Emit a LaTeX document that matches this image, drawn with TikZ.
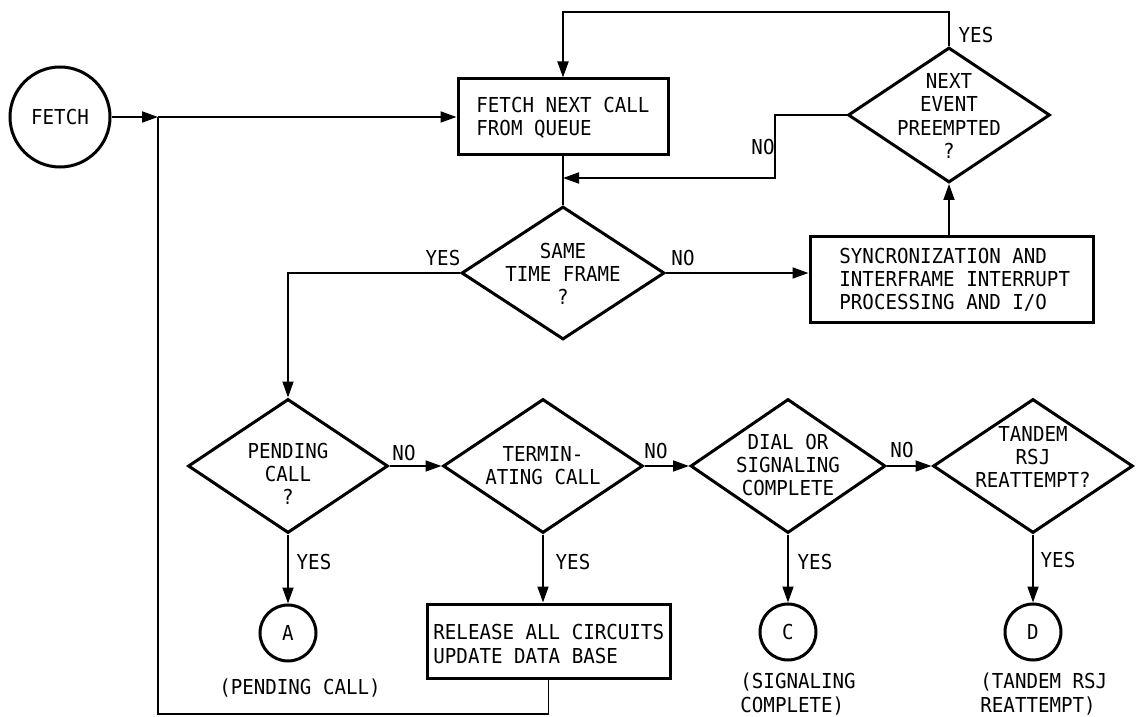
\documentclass[tikz,border=0pt]{standalone}
\usepackage{fontspec}
\setmainfont{DejaVu Sans Mono}[FakeStretch=0.93]
\usetikzlibrary{shapes.geometric,arrows.meta}
\tikzset{
  txt/.style={font=\fontsize{10.3pt}{11.6pt}\selectfont, inner sep=0pt},
  shapeline/.style={draw=black, line width=1.5pt},
  procbox/.style={shapeline, rectangle, inner sep=0pt},
  decide/.style={shapeline, diamond, inner sep=0pt, minimum width=100pt, minimum height=67pt},
  conn/.style={circle, shapeline, inner sep=0pt, minimum size=28pt},
  wire/.style={draw=black, line width=0.9pt},
  arr/.style={wire, -{Triangle[length=8pt,width=5.5pt]}},
}
\begin{document}
\begin{tikzpicture}[x=0.5pt,y=-0.5pt]
\useasboundingbox (0,0) rectangle (1137,717);
% nodes
\node[circle, shapeline, minimum size=50pt, inner sep=0pt] (fetch) at (60,117) {};
\node[txt] (fetcht) at (fetch) {FETCH};
\node[procbox, minimum width=105pt, minimum height=38pt] (box1) at (563,117) {};
\node[txt, align=left, anchor=west] (box1t) at (476,118) {FETCH NEXT CALL\\FROM QUEUE};
\node[decide, minimum width=101.5pt, minimum height=66.5pt] (d1) at (563,273) {};
\node[txt, align=center] (d1t) at (563,274) {SAME\\TIME FRAME\\?};
\node[decide, minimum width=101pt, minimum height=67.5pt] (d2) at (949,115) {};
\node[txt, align=center] (d2t) at (949,116) {NEXT\\EVENT\\PREEMPTED\\?};
\node[procbox, minimum width=141.5pt, minimum height=43pt] (box2) at (951.5,280) {};
\node[txt, align=left, anchor=west] (box2t) at (839,280) {SYNCRONIZATION AND\\INTERFRAME INTERRUPT\\PROCESSING AND I/O};
\node[decide] (d3) at (288,466) {};
\node[txt, align=center] (d3t) at (288,474) {PENDING\\CALL\\?};
\node[decide] (d4) at (543,466) {};
\node[txt, align=center] (d4t) at (543,466) {TERMIN-\\ATING CALL};
\node[decide, minimum width=97.5pt] (d5) at (788,466) {};
\node[txt, align=center] (d5t) at (788,465) {DIAL OR\\SIGNALING\\COMPLETE};
\node[decide] (d6) at (1033,466) {};
\node[txt, align=center] (d6t) at (1033,457) {TANDEM\\RSJ\\REATTEMPT?};
\node[procbox, minimum width=121.5pt, minimum height=37pt] (box3) at (548.5,641) {};
\node[txt, align=left, anchor=west] (box3t) at (433,644) {RELEASE ALL CIRCUITS\\UPDATE DATA BASE};
\node[conn] (cA) at (288,633) {};
\node[txt] (cAt) at (cA) {A};
\node[conn] (cC) at (788,632) {};
\node[txt] (cCt) at (cC) {C};
\node[conn] (cD) at (1033,632) {};
\node[txt] (cDt) at (cD) {D};
\node[txt] (lA) at (300,688) {(PENDING CALL)};
\node[txt, align=left, anchor=west] (lC) at (740,694) {(SIGNALING\\COMPLETE)};
\node[txt, align=left, anchor=west] (lD) at (980,694) {(TANDEM RSJ\\REATTEMPT)};
% yes / no labels
\node[txt] (y1) at (976,35) {YES};
\node[txt] (n1) at (763,147) {NO};
\node[txt] (y2) at (443,258) {YES};
\node[txt] (n2) at (683,258) {NO};
\node[txt] (n3) at (404,453) {NO};
\node[txt] (y3) at (314,562) {YES};
\node[txt] (n4) at (656,451) {NO};
\node[txt] (y4) at (573,562) {YES};
\node[txt] (n5) at (902,450) {NO};
\node[txt] (y5) at (815,562) {YES};
\node[txt] (y6) at (1058,560) {YES};
% helper coordinates
\coordinate (j1) at (158,117);
\coordinate (c1) at (158,714);
\coordinate (c2) at (563,12);
\coordinate (c3) at (775,178);
\coordinate (j2) at (563,178);
% connectors
\draw[arr] (fetch.east) -- (j1);
\draw[arr] (j1) -- (box1.west);
\draw[wire] (box3.south) |- (c1) -- (j1);
\draw[arr] (d2.north) |- (c2) -- (box1.north);
\draw[arr] (d2.west) -| (c3) -- (j2);
\draw[wire] (box1.south) -- (d1.north);
\draw[arr] (d1.east) -- (d1.east -| box2.west);
\draw[arr] (d2.south |- box2.north) -- (d2.south);
\draw[arr] (d1.west) -| (d3.north);
\draw[arr] (d3.east) -- (d4.west);
\draw[arr] (d4.east) -- (d5.west);
\draw[arr] (d5.east) -- (d6.west);
\draw[arr] (d3.south) -- (cA.north);
\draw[arr] (d4.south) -- (d4.south |- box3.north);
\draw[arr] (d5.south) -- (cC.north);
\draw[arr] (d6.south) -- (cD.north);
\end{tikzpicture}
\end{document}
